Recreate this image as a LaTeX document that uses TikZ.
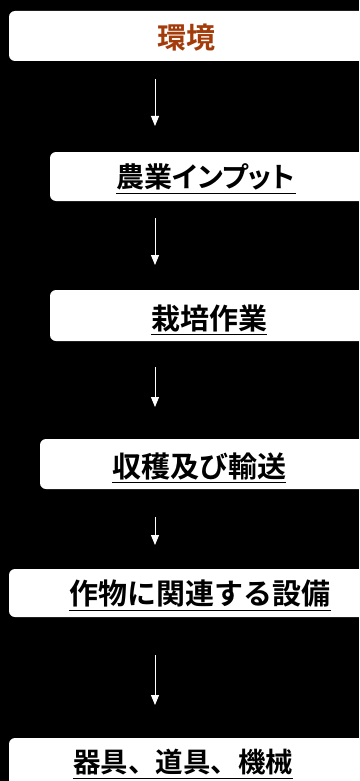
\documentclass[tikz,border=0pt]{standalone}
\usepackage{fontspec}
\usetikzlibrary{arrows.meta}
\newfontfamily\jpfont{Noto Sans CJK JP Bold}
\newfontfamily\jpfontp[RawFeature=+palt]{Noto Sans CJK JP Bold}
\definecolor{envbrown}{HTML}{A33C0A}
\begin{document}
\begin{tikzpicture}[x=1pt,y=-1pt,
  box/.style={fill=white,rounded corners=6pt},
  lbl/.style={inner sep=0pt,font=\jpfont\fontsize{29}{29}\selectfont,text=black},
  ul/.style={line width=1.8pt,black},
  arr/.style={draw=white,line width=0.9pt,-{Triangle[width=8pt,length=10pt]}}]
\useasboundingbox (0,0) rectangle (359,781);
\fill[black] (0,0) rectangle (359,781);
\clip (0,0) rectangle (359,781);
% boxes
\path[box] (9,11) rectangle (372,61);
\path[box] (50,152) rectangle (372,201);
\path[box] (50,290) rectangle (372,341);
\path[box] (40,439) rectangle (372,489);
\path[box] (9,569) rectangle (372,617);
\path[box] (9,738) rectangle (372,800);
% labels
\node[lbl,text=envbrown] (t1) at (186.5,38) {環境};
\node[lbl,font=\jpfontp\fontsize{28}{28}\selectfont] (t2) at (206,177) {農業インプット};
\node[lbl] (t3) at (209,318) {栽培作業};
\node[lbl] (t4) at (199,466) {収穫及び輸送};
\node[lbl] (t5) at (200,594) {作物に関連する設備};
\node[lbl,font=\jpfont\fontsize{27.5}{27.5}\selectfont] (t6) at (183,762) {器具、道具、機械};
% underlines
\foreach \t in {t2,t3,t4,t5,t6}
  \draw[ul] ([yshift=-16.5pt]\t.west) -- ([yshift=-16.5pt]\t.east);
% arrows
\coordinate (a1s) at (155,79);  \coordinate (a1e) at (155,126);
\coordinate (a2s) at (155,218); \coordinate (a2e) at (155,265);
\coordinate (a3s) at (155,367); \coordinate (a3e) at (155,407);
\coordinate (a4s) at (155,517); \coordinate (a4e) at (155,545);
\coordinate (a5s) at (155,655); \coordinate (a5e) at (155,705);
\draw[arr] (a1s) -- (a1e);
\draw[arr] (a2s) -- (a2e);
\draw[arr] (a3s) -- (a3e);
\draw[arr] (a4s) -- (a4e);
\draw[arr] (a5s) -- (a5e);
\end{tikzpicture}
\end{document}
